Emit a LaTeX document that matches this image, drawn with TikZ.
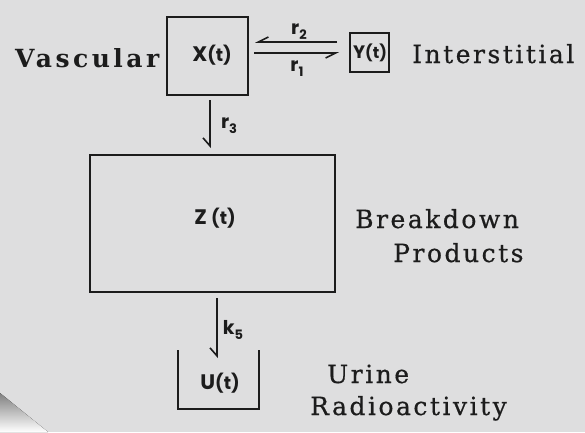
\documentclass[tikz,border=0pt]{standalone}
\usepackage{fontspec}
\setmainfont{DejaVu Serif}
\newfontfamily\lab[LetterSpace=10,FakeBold=0.6]{DejaVu Serif}
\newfontfamily\labb[LetterSpace=14]{DejaVu Serif}
\newfontfamily\sx{Poppins}
\usetikzlibrary{arrows.meta,calc}
\definecolor{bg}{HTML}{DEDEDF}
\definecolor{ink}{HTML}{1C1C1C}
\definecolor{shade}{HTML}{C2C2C5}
\newcommand{\tpar}{\fontsize{18}{18}\selectfont(t)}
\newcommand{\rsub}[1]{\raisebox{-5pt}{\fontsize{13}{13}\selectfont #1}}
\begin{document}
\begin{tikzpicture}[x=1pt,y=-1pt,
  box/.style={draw=ink,line width=2pt,inner sep=0pt,outer sep=0pt},
  harp/.style={draw=ink,line width=1.6pt,-{Straight Barb[right,length=8pt,width=14pt]}},
  harpflat/.style={draw=ink,line width=1.6pt,-{Straight Barb[right,length=10pt,width=10pt]}},
  word/.style={text=ink,anchor=base west,inner sep=0pt,font=\lab\fontsize{25}{25}\selectfont},
  wordb/.style={text=ink,anchor=base west,inner sep=0pt,font=\labb\bfseries\fontsize{25}{25}\selectfont},
  var/.style={text=ink,inner sep=0pt,font=\sx\bfseries\fontsize{21}{21}\selectfont},
  rate/.style={text=ink,inner sep=0pt,font=\sx\bfseries\fontsize{19}{19}\selectfont},
]
\fill[bg] (0,0) rectangle (585,432);
\useasboundingbox (0,0) rectangle (585,432);
\fill[shade] (0,393) -- (48,432) -- (0,432) -- cycle;

% compartments
\node[box,minimum width=81pt,minimum height=78pt] (x) at (207.5,56) {};
\node[var] (xt) at (212,55) {X\tpar};
\node[box,minimum width=39pt,minimum height=39pt] (y) at (369.5,52.5) {};
\node[var,font=\sx\bfseries\fontsize{18}{18}\selectfont] (yt) at (370,53) {Y{\fontsize{16}{16}\selectfont(t)}};
\node[box,minimum width=245pt,minimum height=137pt] (z) at (212.5,223.5) {};
\node[var] (zt) at (215,218) {Z \tpar};
\node[inner sep=0pt,outer sep=0pt,minimum width=81pt,minimum height=59pt] (u) at (218.5,379.5) {};
\node[var] (ut) at (220,383) {U\tpar};
\draw[ink,line width=2pt] (u.north west) -- (u.south west) -- (u.south east) -- (u.north east);

% transfers
\draw[harpflat] ([xshift=-13pt,yshift=10.5pt]y.west) -- ([xshift=7pt,yshift=14pt]x.east);
\draw[harpflat] ([xshift=6pt,yshift=3pt]x.east) -- ([xshift=-11pt,yshift=-0.5pt]y.west);
\draw[harp] ([xshift=2.5pt,yshift=-5pt]x.south) -- ([xshift=-2.5pt,yshift=7pt]z.north);
\draw[harp] ([xshift=4.5pt,yshift=-6pt]z.south) -- ([xshift=-1.5pt,yshift=-8pt]u.north);

% rate labels
\node[rate] (r2) at (299,32) {r\rsub{2}};
\node[rate] (r1) at (297,69) {r\rsub{1}};
\node[rate] (r3) at (229,126) {r\rsub{3}};
\node[rate] (k5) at (233,330) {k\rsub{5}};

% region words
\node[wordb] (vasc) at (15,67) {Vascular};
\node[word] (inter) at (412,63) {Interstitial};
\node[word] (brk) at (355,228) {Breakdown};
\node[word] (prod) at (393,262) {Products};
\node[word] (urine) at (327,383) {Urine};
\node[word] (radio) at (310,415) {Radioactivity};
\end{tikzpicture}
\end{document}
